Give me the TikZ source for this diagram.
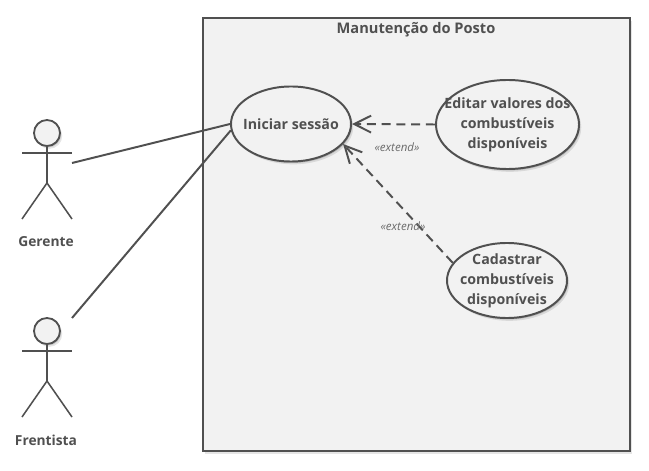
\documentclass[tikz,border=0pt]{standalone}
\usepackage{fontspec}
\setmainfont{Open Sans}
\usetikzlibrary{arrows.meta,shapes.geometric,shadows}
\definecolor{umlline}{HTML}{505050}
\definecolor{umlfill}{HTML}{F2F2F2}
\definecolor{umlmuted}{HTML}{6B6B6B}
\tikzset{
  softshadow/.style={
    drop shadow={shadow xshift=1.6pt, shadow yshift=-2pt, opacity=0.10, fill=black},
    drop shadow={shadow xshift=0.8pt, shadow yshift=-1pt, opacity=0.16, fill=black}},
  usecase/.style={ellipse, draw=umlline, fill=umlfill, line width=1.4pt, inner sep=0pt,
    softshadow, align=center, text=umlline, font=\fontsize{10.1}{14.2}\selectfont\bfseries},
  actorhead/.style={circle, draw=umlline, fill=umlfill, line width=1.3pt, inner sep=0pt,
    minimum size=6.5mm, softshadow},
  actorname/.style={text=umlline, font=\fontsize{9.8}{12}\selectfont\bfseries},
  stereotype/.style={text=umlmuted, font=\fontsize{8.2}{10}\selectfont\itshape, inner sep=0pt},
  assoc/.style={draw=umlline, line width=1.4pt},
  thinlimb/.style={draw=umlline, line width=1.1pt},
  extendarrow/.style={assoc, dash pattern=on 6.5pt off 4pt,
    -{Straight Barb[length=12pt, width=12pt, line width=1.4pt]}},
}
\begin{document}
\begin{tikzpicture}[x=0.025cm, y=-0.025cm]
  \useasboundingbox (0,0) rectangle (649,471);

  % system boundary
  \node[rectangle, draw=umlline, fill=umlfill, line width=1.4pt, minimum width=427*0.25mm,
    minimum height=433*0.25mm, inner sep=0pt, softshadow] (posto) at (416.5,234.5) {};
  \node[text=umlline, font=\fontsize{10.4}{12}\selectfont\bfseries] (postoTitle) at (416,30)
    {Manutenção do Posto};

  % use cases
  \node[usecase, inner xsep=-4.2pt, minimum width=120*0.25mm, minimum height=75*0.25mm] (iniciar)
    at (291,124) {Iniciar sessão};
  \node[usecase, inner xsep=-9.8pt, inner ysep=-1pt, minimum width=143*0.25mm, minimum height=89*0.25mm] (editar)
    at (507.5,124.5) {Editar valores dos\\combustíveis\\disponíveis};
  \node[usecase, inner xsep=-4pt, inner ysep=-3pt, minimum width=120*0.25mm, minimum height=75*0.25mm] (cadastrar)
    at (507,280.5) {Cadastrar\\combustíveis\\disponíveis};

  % actors
  \foreach \actor/\actorlabel/\y in {gerente/Gerente/133, frentista/Frentista/331} {
    \node[actorhead] (\actor Head) at (47,\y) {};
    \coordinate (\actor Hip) at (47,\y+50);
    \draw[assoc] (\actor Head.south) -- (\actor Hip);
    \draw[thinlimb] (22,\y+20) -- (72,\y+20);
    \draw[thinlimb] (22,\y+86) -- (\actor Hip) -- (72,\y+86);
    \node[actorname] (\actor Label) at (46,\y+109) {\actorlabel};
  }

  % associations
  \coordinate (gerenteEnd) at (72,163);
  \coordinate (frentistaEnd) at (72,318);
  \draw[assoc] (gerenteEnd) -- (iniciar.west);
  \draw[assoc] (frentistaEnd) -- (iniciar.186);

  % extends
  \draw[extendarrow] (editar.west) -- (iniciar.east);
  \draw[extendarrow] (cadastrar.162) -- (iniciar.-21);
  \node[stereotype] (extendEditar) at (397,147) {«extend»};
  \node[stereotype] (extendCadastrar) at (403,226) {«extend»};
\end{tikzpicture}
\end{document}
